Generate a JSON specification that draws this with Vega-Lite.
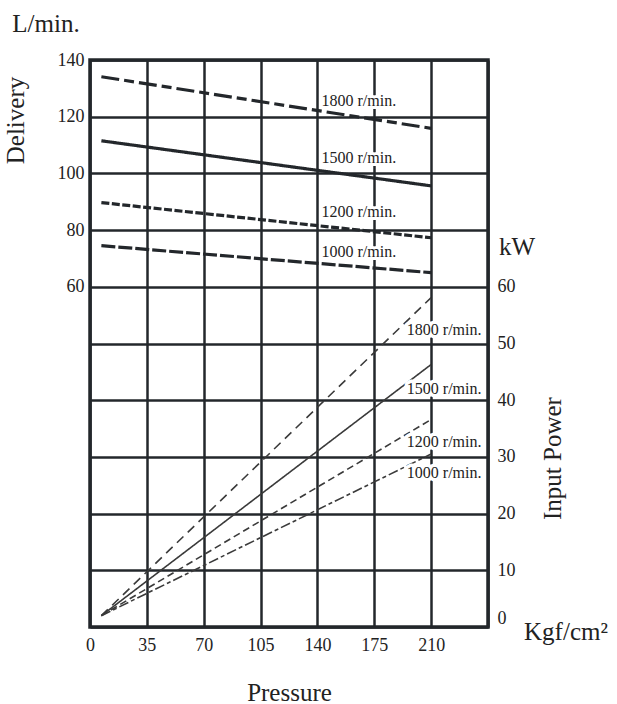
{
  "$schema": "https://vega.github.io/schema/vega-lite/v6.json",
  "width": 398,
  "height": 567,
  "autosize": "none",
  "padding": {"left": 90, "top": 60, "right": 129, "bottom": 77},
  "background": "white",
  "config": {
    "font": "Liberation Serif",
    "view": {"stroke": "#23272b", "strokeWidth": 3.5},
    "axis": {
      "labelFont": "Liberation Serif",
      "labelFontSize": 18,
      "labelColor": "#222222",
      "titleFont": "Liberation Serif",
      "titleFontSize": 25,
      "titleFontWeight": "normal",
      "titleColor": "#222222",
      "domain": false,
      "ticks": false,
      "gridColor": "#23272b",
      "gridWidth": 2.5,
      "gridOpacity": 1
    }
  },
  "datasets": {
    "delivery": [
      {"rpm": "1800 r/min.", "pressure": 7, "value": 134.1},
      {"rpm": "1800 r/min.", "pressure": 210, "value": 115.9},
      {"rpm": "1500 r/min.", "pressure": 7, "value": 111.5},
      {"rpm": "1500 r/min.", "pressure": 210, "value": 95.6},
      {"rpm": "1200 r/min.", "pressure": 7, "value": 89.7},
      {"rpm": "1200 r/min.", "pressure": 210, "value": 77.3},
      {"rpm": "1000 r/min.", "pressure": 7, "value": 74.5},
      {"rpm": "1000 r/min.", "pressure": 210, "value": 65.0}
    ],
    "deliveryLabels": [
      {"rpm": "1800 r/min.", "pressure": 142.5, "value": 125.6},
      {"rpm": "1500 r/min.", "pressure": 142.5, "value": 105.3},
      {"rpm": "1200 r/min.", "pressure": 142.5, "value": 86.5},
      {"rpm": "1000 r/min.", "pressure": 142.5, "value": 72.2}
    ],
    "power": [
      {"rpm": "1800 r/min.", "pressure": 7, "value": 2},
      {"rpm": "1800 r/min.", "pressure": 210, "value": 58.1},
      {"rpm": "1500 r/min.", "pressure": 7, "value": 2},
      {"rpm": "1500 r/min.", "pressure": 210, "value": 46.3},
      {"rpm": "1200 r/min.", "pressure": 7, "value": 2},
      {"rpm": "1200 r/min.", "pressure": 210, "value": 36.6},
      {"rpm": "1000 r/min.", "pressure": 7, "value": 2},
      {"rpm": "1000 r/min.", "pressure": 210, "value": 30.5}
    ],
    "powerLabels": [
      {"rpm": "1800 r/min.", "pressure": 241, "value": 52.4},
      {"rpm": "1500 r/min.", "pressure": 241, "value": 41.9},
      {"rpm": "1200 r/min.", "pressure": 241, "value": 32.7},
      {"rpm": "1000 r/min.", "pressure": 241, "value": 27.2}
    ]
  },
  "layer": [
    {
      "encoding": {
        "x": {
          "field": "pressure",
          "type": "quantitative",
          "scale": {"domain": [0, 245], "nice": false, "zero": false},
          "axis": {
            "values": [0, 35, 70, 105, 140, 175, 210, 245],
            "labelExpr": "datum.value > 210 ? '' : datum.label",
            "grid": true,
            "labelFlush": false,
            "labelPadding": 9,
            "title": "Pressure",
            "titleY": 65,
            "titleBaseline": "middle"
          }
        },
        "y": {
          "field": "value",
          "type": "quantitative",
          "scale": {"domain": [-60, 140], "nice": false, "zero": false},
          "axis": {
            "orient": "left",
            "values": [-60, -40, -20, 0, 20, 40, 60, 80, 100, 120, 140],
            "labelExpr": "datum.value < 60 ? '' : datum.label",
            "grid": true,
            "labelPadding": 6,
            "title": "Delivery",
            "titleX": -75,
            "titleY": 60,
            "titleAngle": 270,
            "titleAlign": "center",
            "titleBaseline": "middle"
          }
        }
      },
      "layer": [
        {
          "data": {"name": "delivery"},
          "mark": {"type": "line", "color": "#23272b", "strokeWidth": 3.2},
          "encoding": {
            "detail": {"field": "rpm"},
            "strokeDash": {
              "field": "rpm",
              "type": "nominal",
              "legend": null,
              "scale": {
                "domain": ["1800 r/min.", "1500 r/min.", "1200 r/min.", "1000 r/min."],
                "range": [[18, 5, 10, 5], [1, 0], [8, 2.5], [14, 3]]
              }
            }
          }
        },
        {
          "data": {"name": "deliveryLabels"},
          "mark": {"type": "text", "align": "left", "baseline": "middle", "fontSize": 16, "font": "Liberation Serif", "color": "white", "stroke": "white", "strokeWidth": 6, "strokeJoin": "round"},
          "encoding": {"text": {"field": "rpm"}}
        },
        {
          "data": {"name": "deliveryLabels"},
          "mark": {"type": "text", "align": "left", "baseline": "middle", "fontSize": 16, "font": "Liberation Serif", "color": "#222222"},
          "encoding": {"text": {"field": "rpm"}}
        },
        {
          "data": {"values": [{"unit": "L/min.", "pressure": 0, "value": 140}]},
          "mark": {"type": "text", "align": "center", "baseline": "middle", "dx": -44, "dy": -36, "fontSize": 25, "font": "Liberation Serif", "color": "#222222"},
          "encoding": {"text": {"field": "unit"}}
        }
      ]
    },
    {
      "encoding": {
        "x": {"field": "pressure", "type": "quantitative"},
        "y": {
          "field": "value",
          "type": "quantitative",
          "scale": {"domain": [0, 100], "nice": false, "zero": false},
          "axis": {
            "orient": "right",
            "values": [0, 10, 20, 30, 40, 50, 60, 70, 80, 90, 100],
            "labelExpr": "datum.value > 60 ? '' : datum.label",
            "grid": false,
            "labelFlush": true,
            "labelPadding": 9,
            "title": "Input Power",
            "titleX": 64,
            "titleY": 398,
            "titleAngle": 270,
            "titleAlign": "center",
            "titleBaseline": "middle"
          }
        }
      },
      "layer": [
        {
          "data": {"name": "power"},
          "mark": {"type": "line", "color": "#3a3a3a", "strokeWidth": 1.6},
          "encoding": {
            "detail": {"field": "rpm"},
            "strokeDash": {
              "field": "rpm",
              "type": "nominal",
              "legend": null,
              "scale": {
                "domain": ["1800 r/min.", "1500 r/min.", "1200 r/min.", "1000 r/min."],
                "range": [[9, 6], [1, 0], [7, 4], [10, 3, 4, 3]]
              }
            }
          }
        },
        {
          "data": {"name": "powerLabels"},
          "mark": {"type": "text", "align": "right", "baseline": "middle", "fontSize": 16, "font": "Liberation Serif", "color": "white", "stroke": "white", "strokeWidth": 7, "strokeJoin": "round"},
          "encoding": {"text": {"field": "rpm"}}
        },
        {
          "data": {"name": "powerLabels"},
          "mark": {"type": "text", "align": "right", "baseline": "middle", "fontSize": 16, "font": "Liberation Serif", "color": "#222222"},
          "encoding": {"text": {"field": "rpm"}}
        },
        {
          "data": {"values": [{"unit": "kW", "pressure": 245, "value": 67}]},
          "mark": {"type": "text", "align": "center", "baseline": "middle", "dx": 29, "fontSize": 25, "font": "Liberation Serif", "color": "#222222"},
          "encoding": {"text": {"field": "unit"}}
        },
        {
          "data": {"values": [{"unit": "Kgf/cm²", "pressure": 245, "value": 0}]},
          "mark": {"type": "text", "align": "center", "baseline": "middle", "dx": 78, "dy": 5, "fontSize": 25, "font": "Liberation Serif", "color": "#222222"},
          "encoding": {"text": {"field": "unit"}}
        }
      ]
    }
  ],
  "resolve": {"scale": {"y": "independent", "strokeDash": "independent"}}
}
